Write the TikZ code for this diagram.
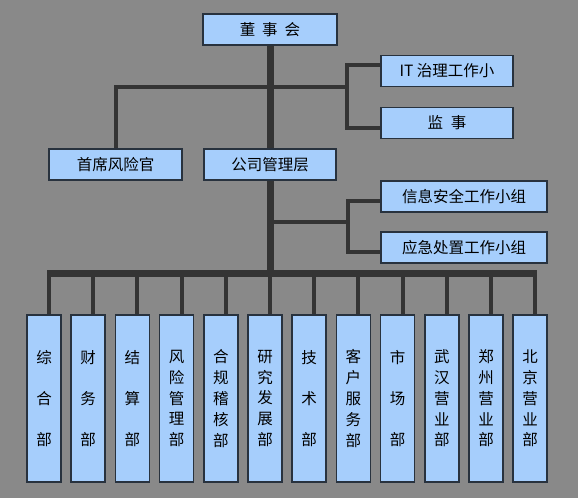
\documentclass[tikz,border=0pt]{standalone}
\usepackage{fontspec}
\newfontfamily\cjk{Noto Sans CJK SC}
\definecolor{bggray}{RGB}{137,137,137}
\definecolor{boxblue}{RGB}{166,206,252}
\definecolor{boxline}{RGB}{40,50,62}
\definecolor{linegray}{RGB}{52,52,52}

\begin{document}
\begin{tikzpicture}[x=1pt,y=-1pt,
    box/.style={draw=boxline,line width=1.6pt,fill=boxblue,minimum height=31pt,
      inner sep=0pt,font=\cjk\fontsize{15.5}{16}\selectfont},
    dept/.style={box,minimum width=34pt,minimum height=167pt,align=center},
    link/.style={draw=linegray,line width=4pt},
    trunk/.style={draw=linegray,line width=7pt}]
  \fill[bggray] (0,0) rectangle (578,498);
  \useasboundingbox (0,0) rectangle (578,498);

  % upper boxes
  \node[box,minimum width=134pt] (board) at (270,29.5) {董\hspace{0.45em}事\hspace{0.45em}会};
  \node[box,minimum width=132pt] (it) at (447,71) {IT 治理工作小};
  \node[box,minimum width=132pt] (sup) at (447,123) {监\hspace{0.5em}事};
  \node[box,minimum width=133pt] (cro) at (115.5,164.5) {首席风险官};
  \node[box,minimum width=132pt] (mgmt) at (270,164.5) {公司管理层};
  \node[box,minimum width=166pt] (infosec) at (464,196.5) {信息安全工作小组};
  \node[box,minimum width=166pt] (emerg) at (464,247.5) {应急处置工作小组};

  % departments
  \foreach \txt/\gap [count=\i from 0] in {
      {综\\合\\部}/41, {财\\务\\部}/41, {结\\算\\部}/41,
      {风\\险\\管\\理\\部}/20.8, {合\\规\\稽\\核\\部}/20.8, {研\\究\\发\\展\\部}/20.8,
      {技\\术\\部}/41, {客\\户\\服\\务\\部}/20.8, {市\\场\\部}/41,
      {武\\汉\\营\\业\\部}/20.8, {郑\\州\\营\\业\\部}/20.8, {北\\京\\营\\业\\部}/20.8}
    \node[dept,font=\cjk\fontsize{15.5}{\gap}\selectfont] (d\i) at (44+44.2*\i,398.5) {\txt};

  \coordinate (top) at (270,87);
  \coordinate (rb) at (347,87);
  \coordinate (mid) at (270,222);
  \coordinate (rb2) at (348,222);
  \coordinate (bus) at (270,273);

  % connectors
  \draw[trunk] (board.south) -- (mgmt.north);
  \draw[trunk] (mgmt.south) -- (bus);
  \draw[link] (cro.north) |- (rb);
  \draw[link] ([yshift=6pt]it.west) -| (rb) |- ([yshift=-5pt]sup.west);
  \draw[link] (mid) -- (rb2);
  \draw[link] ([yshift=-4.5pt]infosec.west) -| (rb2) |- ([yshift=-4.5pt]emerg.west);
  \foreach \i in {0,...,11}
    \draw[link] ([xshift=5pt]d\i.north) -- ++(0,-42);
  \draw[trunk,shorten <=-2pt,shorten >=-2pt] ([xshift=5pt]d0.north |- bus) -- ([xshift=5pt]d11.north |- bus);
\end{tikzpicture}
\end{document}
